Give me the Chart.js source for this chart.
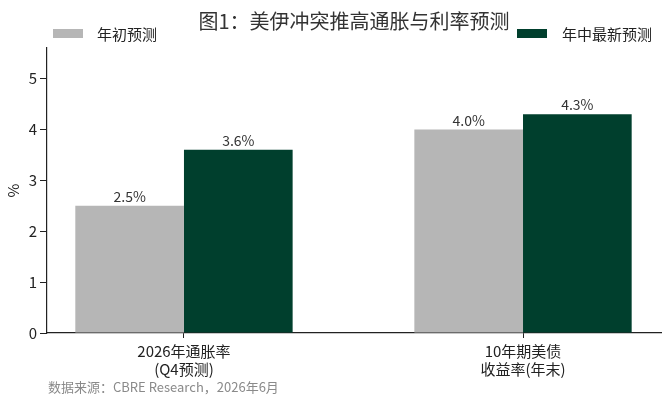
<!DOCTYPE html>
<html>
<head>
<meta charset="utf-8">
<script src="https://cdn.jsdelivr.net/npm/chart.js@4/dist/chart.umd.min.js"></script>
<style>
  html, body { margin: 0; padding: 0; background: #fff; }
  #wrap { width: 668px; height: 407px; }
</style>
</head>
<body>
<div id="wrap"><canvas id="myChart" width="668" height="407"></canvas></div>
<script>
var categories = [["2026年通胀率", "(Q4预测)"], ["10年期美债", "收益率(年末)"]];
var seriesNames = ["年初预测", "年中最新预测"];
var earlyValues = [2.5, 4.0];
var midValues = [3.6, 4.3];
var yTicks = [0, 1, 2, 3, 4, 5];
var chartTitle = "图1：美伊冲突推高通胀与利率预测";
var sourceNote = "数据来源：CBRE Research，2026年6月";

var FONT = "'Noto Sans CJK SC', 'Noto Sans', sans-serif";
var colors = ["#b6b6b6", "#003f2d"];

function toPoints(values) {
  return values.map(function (v, i) { return { x: i, y: v }; });
}

// title, legend at both ends, value labels and source line
var extras = {
  id: "extras",
  afterDatasetsDraw: function (chart) {
    var ctx = chart.ctx;
    var area = chart.chartArea;
    ctx.save();

    // value labels above bars
    ctx.font = "14px " + FONT;
    ctx.fillStyle = "#333";
    ctx.textAlign = "center";
    ctx.textBaseline = "bottom";
    chart.data.datasets.forEach(function (ds, di) {
      chart.getDatasetMeta(di).data.forEach(function (bar, i) {
        ctx.fillText(ds.data[i].y.toFixed(1) + "%", bar.x, bar.y - 2);
      });
    });

    // title
    ctx.font = "20px " + FONT;
    ctx.fillStyle = "#333";
    ctx.textBaseline = "middle";
    ctx.fillText(chartTitle, (area.left + area.right) / 2, 21);

    // legend
    ctx.font = "15px " + FONT;
    ctx.textAlign = "left";
    var ds = chart.data.datasets;
    ctx.fillStyle = ds[0].backgroundColor;
    ctx.fillRect(53, 29, 30, 9);
    ctx.fillStyle = "#222";
    ctx.fillText(ds[0].label, 97, 34);
    var w2 = ctx.measureText(ds[1].label).width;
    var tx = 652 - w2;
    ctx.fillStyle = ds[1].backgroundColor;
    ctx.fillRect(tx - 45, 29, 30, 9);
    ctx.fillStyle = "#222";
    ctx.fillText(ds[1].label, tx, 34);

    // source
    ctx.font = "13px " + FONT;
    ctx.fillStyle = "#8a8a8a";
    ctx.fillText(sourceNote, 48, 387);
    ctx.restore();
  }
};

new Chart("myChart", {
  type: "bar",
  data: {
    datasets: [{
      label: seriesNames[0],
      backgroundColor: colors[0],
      data: toPoints(earlyValues)
    }, {
      label: seriesNames[1],
      backgroundColor: colors[1],
      data: toPoints(midValues)
    }]
  },
  options: {
    responsive: false,
    animation: false,
    layout: { padding: { top: 48, right: 7, left: 0, bottom: 0 } },
    datasets: { bar: { categoryPercentage: 0.641, barPercentage: 1 } },
    plugins: {
      legend: { display: false },
      tooltip: { enabled: false }
    },
    scales: {
      x: {
        type: "linear",
        offset: false,
        min: -0.404,
        max: 1.407,
        afterBuildTicks: function (scale) {
          scale.ticks = categories.map(function (c, i) { return { value: i }; });
        },
        afterFit: function (scale) { scale.height = 74; },
        grid: { offset: false, drawOnChartArea: false, drawTicks: true, tickLength: 5, color: "#222" },
        border: { display: true, color: "#222", width: 1.2 },
        ticks: {
          autoSkip: false,
          maxRotation: 0,
          padding: 5,
          color: "#222",
          font: { family: FONT, size: 15, lineHeight: 1.15 },
          callback: function (value) { return categories[value]; }
        }
      },
      y: {
        min: 0,
        max: 5.6,
        afterBuildTicks: function (scale) {
          scale.ticks = yTicks.map(function (v) { return { value: v }; });
        },
        afterFit: function (scale) { scale.width = 47; },
        grid: { drawOnChartArea: false, drawTicks: true, tickLength: 7, color: "#222" },
        border: { display: true, color: "#222", width: 1.2 },
        title: {
          display: true,
          text: "%",
          color: "#222",
          font: { family: FONT, size: 15 },
          padding: { top: 4, bottom: 0 }
        },
        ticks: {
          stepSize: 1,
          padding: 3,
          color: "#222",
          font: { family: FONT, size: 15 }
        }
      }
    }
  },
  plugins: [extras]
});
</script>
</body>
</html>
